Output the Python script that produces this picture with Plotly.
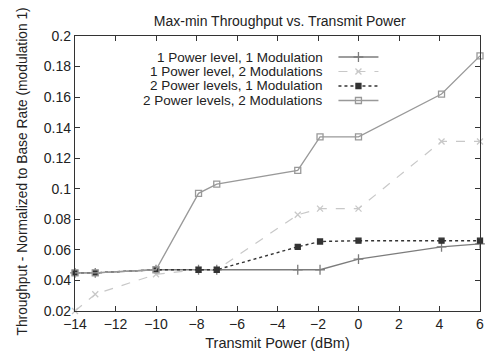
import plotly.graph_objects as go

power_dbm = [-14, -13, -10, -7.9, -7, -3, -1.9, 0, 4.1, 6]

names = [
    "1 Power level, 1 Modulation",
    "1 Power level, 2 Modulations",
    "2 Power levels, 1 Modulation",
    "2 Power levels, 2 Modulations",
]

p1_m1 = [0.045, 0.045, 0.047, 0.047, 0.047, 0.047, 0.047, 0.054, 0.062, 0.064]
p1_m2 = [0.020, 0.031, 0.044, 0.047, 0.047, 0.083, 0.087, 0.087, 0.131, 0.131]
p2_m1 = [0.045, 0.045, 0.047, 0.047, 0.047, 0.062, 0.0655, 0.066, 0.066, 0.066]
p2_m2 = [0.045, 0.045, 0.047, 0.097, 0.103, 0.112, 0.134, 0.134, 0.162, 0.187]

x_ticks = list(range(-14, 7, 2))
y_ticks = [0.02, 0.04, 0.06, 0.08, 0.1, 0.12, 0.14, 0.16, 0.18, 0.2]
y_tick_text = ["0.02", "0.04", "0.06", "0.08", "0.1", "0.12", "0.14", "0.16", "0.18", "0.2"]

styles = [
    dict(color="#7c7c7c", dash="solid", symbol="cross-thin", size=7, width=1.3),
    dict(color="#c8c8c8", dash="dash", symbol="x-thin", size=6, width=1.2),
    dict(color="#333333", dash="dot", symbol="square", size=5, width=1.4),
    dict(color="#999999", dash="solid", symbol="square-open", size=6, width=1.3),
]
series = [p1_m1, p1_m2, p2_m1, p2_m2]

FONT = "Liberation Sans, Arial, sans-serif"
TXT = "#222"

L, R, T, B = 75, 5, 36, 48
W, H = 489, 359
PW, PH = W - L - R, H - T - B

def px_x(px):
    return (px - L) / PW

def px_y(py):
    return (H - B - py) / PH

row_px = [57, 71.5, 86, 100.5]
legend_ids = ["legend", "legend2", "legend3", "legend4"]

fig = go.Figure()
for name, ys, st, lid in zip(names, series, styles, legend_ids):
    fig.add_trace(go.Scatter(
        x=power_dbm, y=ys, name=" ", mode="lines+markers", legend=lid,
        cliponaxis=False,
        line=dict(color=st["color"], dash=st["dash"], width=st["width"]),
        marker=dict(symbol=st["symbol"], size=st["size"], color=st["color"],
                    line=dict(color=st["color"], width=1.3)),
    ))

legend_layouts = {}
for name, py, lid in zip(names, row_px, legend_ids):
    fig.add_annotation(x=px_x(326), y=px_y(py), xref="paper", yref="paper", text=name,
                       showarrow=False, xanchor="right", yanchor="middle", borderpad=0,
                       font=dict(family=FONT, size=13.5, color=TXT))
    legend_layouts[lid] = dict(x=px_x(336), y=px_y(py), xanchor="left", yanchor="middle",
                               bgcolor="rgba(0,0,0,0)", font=dict(family=FONT, size=10),
                               itemwidth=40)

# y-axis title as a rotated annotation
fig.add_annotation(x=px_x(21), y=px_y(172), xref="paper", yref="paper",
                   text="Throughput - Normalized to Base Rate (modulation 1)",
                   textangle=-90, showarrow=False, xanchor="center", yanchor="middle",
                   borderpad=0, font=dict(family=FONT, size=13.8, color=TXT))

axis_common = dict(
    showgrid=False, zeroline=False, showline=True, linecolor="#333", linewidth=1.3,
    mirror="ticks", ticks="inside", ticklen=5, tickcolor="#333", tickwidth=1.2,
    tickfont=dict(family=FONT, size=14, color=TXT),
)

fig.update_layout(
    width=W, height=H,
    margin=dict(l=L, r=R, t=T, b=B),
    paper_bgcolor="white", plot_bgcolor="white",
    title=dict(text="Max-min Throughput vs. Transmit Power", x=0.572, xanchor="center",
               y=1 - 21 / H, yanchor="middle", font=dict(family=FONT, size=14, color=TXT)),
    xaxis=dict(range=[-14, 6], tickvals=x_ticks, title=dict(text="Transmit Power (dBm)", standoff=6,
               font=dict(family=FONT, size=14.5, color=TXT)), **axis_common),
    yaxis=dict(range=[0.02, 0.2], tickvals=y_ticks, ticktext=y_tick_text, **axis_common),
    showlegend=True,
    **legend_layouts,
)

fig.write_html("out.html", config={"displayModeBar": False},
               post_script="document.body.style.margin='0';")
